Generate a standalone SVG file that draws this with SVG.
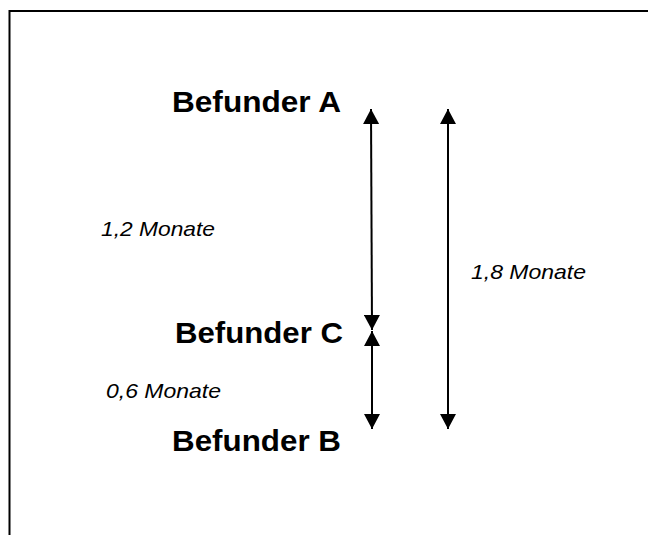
<svg xmlns="http://www.w3.org/2000/svg" width="648" height="535" viewBox="0 0 648 535">
<defs>
<marker id="ah" viewBox="0 0 15 16" refX="15" refY="8" markerWidth="15" markerHeight="16" markerUnits="userSpaceOnUse" orient="auto-start-reverse">
<path d="M0,0 L15,8 L0,16 Z" fill="#000"/>
</marker>
<style>
.lbl{font-family:"Liberation Sans",Arial,sans-serif;font-weight:bold;font-size:30px;fill:#000}
.dur{font-family:"Liberation Sans",Arial,sans-serif;font-style:italic;font-size:21px;fill:#000}
.conn{stroke:#000;stroke-width:2;fill:none}
</style>
</defs>
<rect width="648" height="535" fill="#fff"/>
<g id="frame">
<path d="M648,11 L9.5,11 L9.5,535" stroke="#000" stroke-width="2" fill="none"/>
</g>
<g id="nodeA"><text class="lbl" x="172" y="112" textLength="169" lengthAdjust="spacingAndGlyphs">Befunder A</text></g>
<g id="nodeC"><text class="lbl" x="175" y="343" textLength="168" lengthAdjust="spacingAndGlyphs">Befunder C</text></g>
<g id="nodeB"><text class="lbl" x="172" y="451" textLength="169" lengthAdjust="spacingAndGlyphs">Befunder B</text></g>
<g id="labels">
<text class="dur" x="101" y="236" textLength="114" lengthAdjust="spacingAndGlyphs">1,2 Monate</text>
<text class="dur" x="471" y="279" textLength="115" lengthAdjust="spacingAndGlyphs">1,8 Monate</text>
<text class="dur" x="106" y="398" textLength="115" lengthAdjust="spacingAndGlyphs">0,6 Monate</text>
</g>
<g id="connectors">
<line class="conn" x1="371" y1="109" x2="372" y2="330" marker-start="url(#ah)" marker-end="url(#ah)"/>
<line class="conn" x1="372" y1="331" x2="372" y2="429" marker-start="url(#ah)" marker-end="url(#ah)"/>
<line class="conn" x1="448" y1="109" x2="448" y2="429" marker-start="url(#ah)" marker-end="url(#ah)"/>
</g>
</svg>
